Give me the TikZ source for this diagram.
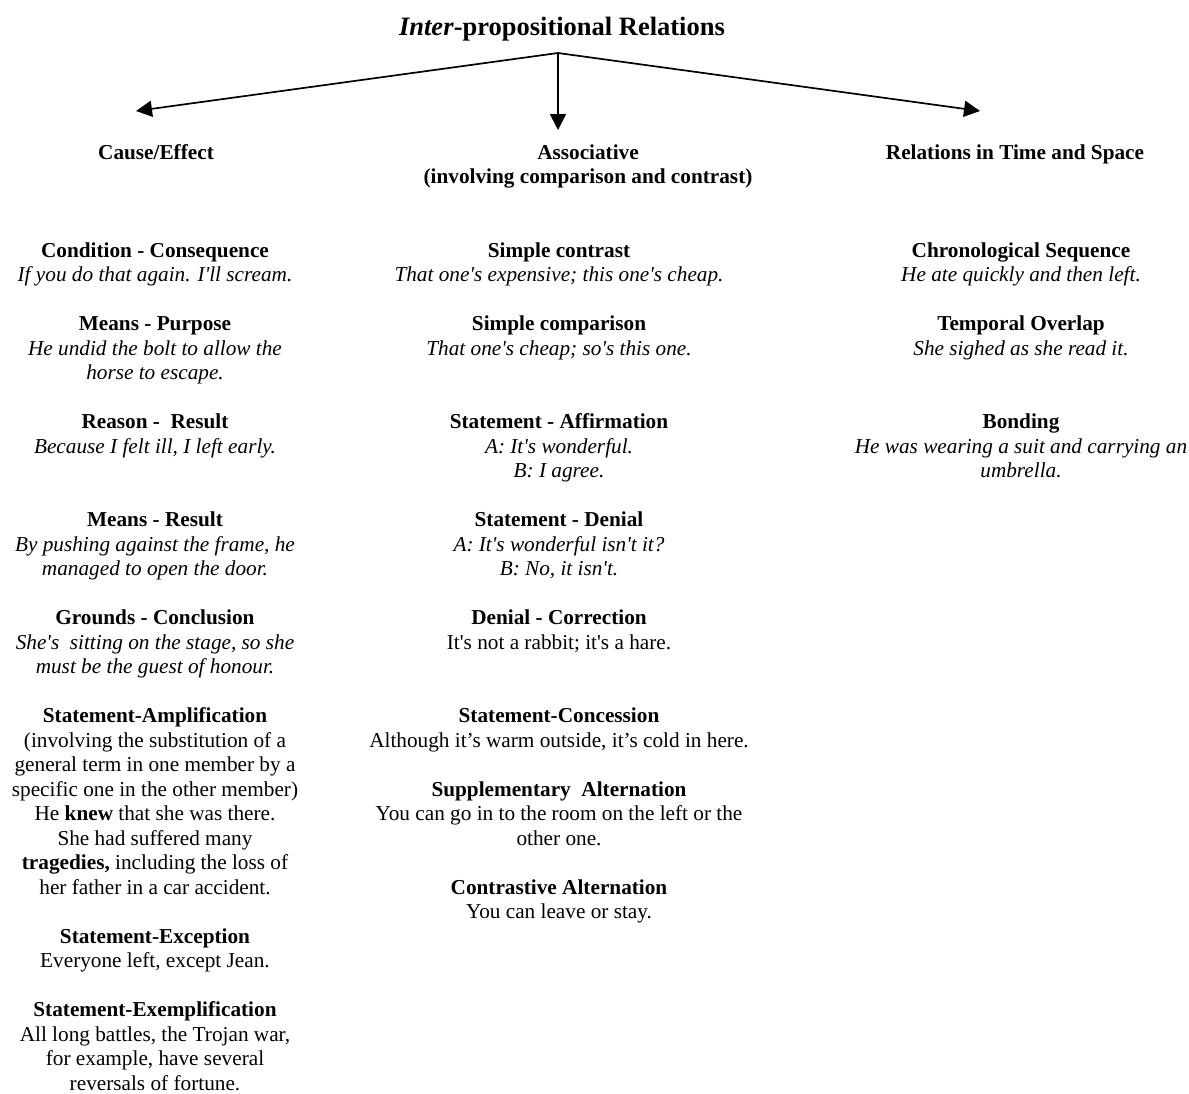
\documentclass[tikz,border=0pt]{standalone}
\usepackage{fontspec}
\setmainfont{Liberation Serif}[Ligatures=TeXOff]
\usetikzlibrary{arrows.meta}
\newcommand\Ln[5]{\node[#1] (#2) at (#3,{257+24.5*#4}) {#5};}
\begin{document}
\begin{tikzpicture}[x=1pt,y={(0pt,-1pt)},
  every node/.style={inner sep=0pt,anchor=base},
  bd/.style={font=\fontsize{21.25}{24.5}\selectfont\bfseries},
  it/.style={font=\fontsize{21.25}{24.5}\selectfont\itshape},
  rm/.style={font=\fontsize{21.25}{24.5}\selectfont},
  ttl/.style={font=\fontsize{26.5}{30}\selectfont\bfseries},
  arr/.style={line width=1.7pt,-{Triangle[length=16pt,width=16pt]}}]
\useasboundingbox (0,0) rectangle (1189,1093);
% title and branches
\node[ttl] (title) at (562,35) {\textit{Inter}-propositional Relations};
\coordinate (apex) at (558,53);
\coordinate (tipL) at (136,111);
\coordinate (tipM) at (558,130);
\coordinate (tipR) at (980,111);
\draw[arr] (apex) -- (tipL);
\draw[arr] (apex) -- (tipM);
\draw[arr] (apex) -- (tipR);
% headings
\node[bd] (hCause) at (156,159) {Cause/Effect};
\node[bd] (hAssoc) at (588,159) {Associative};
\node[bd] (hAssoc2) at (588,183.5) {(involving comparison and contrast)};
\node[bd] (hTime) at (1015,159) {Relations in Time and Space};
% column 1
\Ln{bd}{a0}{155}{0}{Condition - Consequence}
\Ln{it}{a1}{155}{1}{If you do that again. I'll scream.}
\Ln{bd}{a3}{155}{3}{Means - Purpose}
\Ln{it}{a4}{155}{4}{He undid the bolt to allow the}
\Ln{it}{a5}{155}{5}{horse to escape.}
\Ln{bd}{a7}{155}{7}{Reason -\ \ Result}
\Ln{it}{a8}{155}{8}{Because I felt ill, I left early.}
\Ln{bd}{a11}{155}{11}{Means - Result}
\Ln{it}{a12}{155}{12}{By pushing against the frame, he}
\Ln{it}{a13}{155}{13}{managed to open the door.}
\Ln{bd}{a15}{155}{15}{Grounds - Conclusion}
\Ln{it}{a16}{155}{16}{She's\ \ sitting on the stage, so she}
\Ln{it}{a17}{155}{17}{must be the guest of honour.}
\Ln{bd}{a19}{155}{19}{Statement-Amplification}
\Ln{rm}{a20}{155}{20}{(involving the substitution of a}
\Ln{rm}{a21}{155}{21}{general term in one member by a}
\Ln{rm}{a22}{155}{22}{specific one in the other member)}
\Ln{rm}{a23}{155}{23}{He \textbf{knew} that she was there.}
\Ln{rm}{a24}{155}{24}{She had suffered many}
\Ln{rm}{a25}{155}{25}{\textbf{tragedies,} including the loss of}
\Ln{rm}{a26}{155}{26}{her father in a car accident.}
\Ln{bd}{a28}{155}{28}{Statement-Exception}
\Ln{rm}{a29}{155}{29}{Everyone left, except Jean.}
\Ln{bd}{a31}{155}{31}{Statement-Exemplification}
\Ln{rm}{a32}{155}{32}{All long battles, the Trojan war,}
\Ln{rm}{a33}{155}{33}{for example, have several}
\Ln{rm}{a34}{155}{34}{reversals of fortune.}
% column 2
\Ln{bd}{b0}{559}{0}{Simple contrast}
\Ln{it}{b1}{559}{1}{That one's expensive; this one's cheap.}
\Ln{bd}{b3}{559}{3}{Simple comparison}
\Ln{it}{b4}{559}{4}{That one's cheap; so's this one.}
\Ln{bd}{b7}{559}{7}{Statement - Affirmation}
\Ln{it}{b8}{559}{8}{A: It's wonderful.}
\Ln{it}{b9}{559}{9}{B: I agree.}
\Ln{bd}{b11}{559}{11}{Statement - Denial}
\Ln{it}{b12}{559}{12}{A: It's wonderful isn't it?}
\Ln{it}{b13}{559}{13}{B: No, it isn't.}
\Ln{bd}{b15}{559}{15}{Denial - Correction}
\Ln{rm}{b16}{559}{16}{It's not a rabbit; it's a hare.}
\Ln{bd}{b19}{559}{19}{Statement-Concession}
\Ln{rm}{b20}{559}{20}{Although it’s warm outside, it’s cold in here.}
\Ln{bd}{b22}{559}{22}{Supplementary\ \ Alternation}
\Ln{rm}{b23}{559}{23}{You can go in to the room on the left or the}
\Ln{rm}{b24}{559}{24}{other one.}
\Ln{bd}{b26}{559}{26}{Contrastive Alternation}
\Ln{rm}{b27}{559}{27}{You can leave or stay.}
% column 3
\Ln{bd}{c0}{1021}{0}{Chronological Sequence}
\Ln{it}{c1}{1021}{1}{He ate quickly and then left.}
\Ln{bd}{c3}{1021}{3}{Temporal Overlap}
\Ln{it}{c4}{1021}{4}{She sighed as she read it.}
\Ln{bd}{c7}{1021}{7}{Bonding}
\Ln{it}{c8}{1021}{8}{He was wearing a suit and carrying an}
\Ln{it}{c9}{1021}{9}{umbrella.}
\end{tikzpicture}
\end{document}
